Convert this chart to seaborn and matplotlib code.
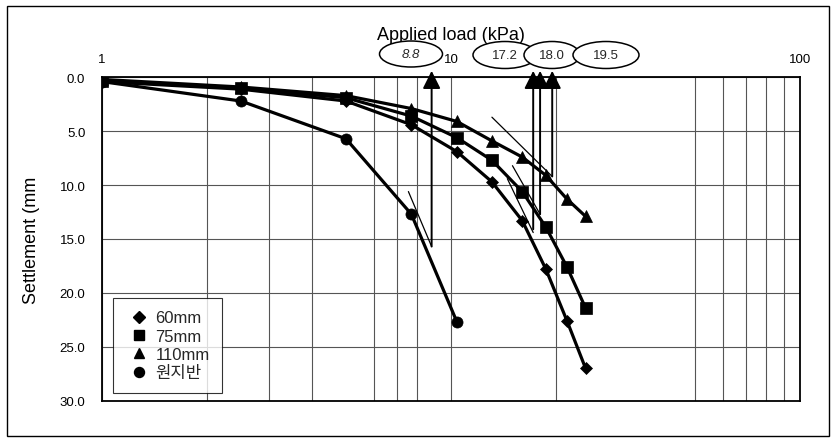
import matplotlib
matplotlib.use("Agg")
import matplotlib.pyplot as plt
import seaborn as sns
from matplotlib.patches import Ellipse, Rectangle
from matplotlib.lines import Line2D
from matplotlib.ticker import NullFormatter, FixedLocator

# Load steps (kPa) and measured settlements (mm)
loads = [1.0, 2.5, 5.0, 7.7, 10.4, 13.1, 16.0, 18.7, 21.5, 24.3]
settle_60 = [0.4, 1.1, 2.2, 4.4, 6.9, 9.7, 13.3, 17.8, 22.6, 27.0]
settle_75 = [0.3, 1.0, 1.9, 3.6, 5.6, 7.7, 10.6, 13.9, 17.6, 21.4]
settle_110 = [0.2, 0.9, 1.7, 2.9, 4.1, 5.9, 7.4, 9.1, 11.3, 12.9]
loads_ground = [1.0, 2.5, 5.0, 7.7, 10.4]
settle_ground = [0.4, 2.2, 5.7, 12.7, 22.7]

series_names = ["60mm", "75mm", "110mm", "원지반"]
series_markers = ["D", "s", "^", "o"]
series_msize = [6.5, 8, 8.5, 8]

# Yield loads picked from the tangent intersections
yield_loads = [8.8, 17.2, 18.0, 19.5]
yield_depth = [15.7, 14.1, 12.7, 9.2]
# Tangent lines: (x0, y0, x1, y1)
tangent_lines = [
    (7.55, 10.6, 8.8, 15.7),
    (14.5, 9.4, 17.2, 14.4),
    (15.0, 8.2, 18.0, 12.7),
    (13.1, 3.7, 19.5, 9.2),
]

x_ticks = [1, 10, 100]
x_grid = [2, 3, 4, 6, 7, 8, 20, 50, 60, 70, 80, 90]
y_ticks = [0, 5, 10, 15, 20, 25, 30]

sns.set_theme(style="white")
plt.rcParams["font.family"] = ["Liberation Sans", "Noto Sans CJK KR", "DejaVu Sans"]

W, H = 835, 439
fig = plt.figure(figsize=(W / 100, H / 100), dpi=100)
ax = fig.add_axes([102 / W, 1 - 401.7 / H, 698 / W, 323.4 / H])

all_x = [loads, loads, loads, loads_ground]
all_y = [settle_60, settle_75, settle_110, settle_ground]
for xs, ys, mk, ms in zip(all_x, all_y, series_markers, series_msize):
    sns.lineplot(x=xs, y=ys, ax=ax, color="black", lw=2.3, marker=mk,
                 markersize=ms, markeredgecolor="black", markeredgewidth=0.5,
                 estimator=None, sort=False, zorder=4)

for (x0, y0, x1, y1) in tangent_lines:
    ax.plot([x0, x1], [y0, y1], color="black", lw=0.9, zorder=3)

for xv, yv in zip(yield_loads, yield_depth):
    ax.annotate("", xy=(xv, -0.6), xytext=(xv, yv), annotation_clip=False,
                arrowprops=dict(arrowstyle="-|>,head_length=0.9,head_width=0.45",
                                color="black", lw=1.4, shrinkA=0, shrinkB=0),
                zorder=5)

ax.set_xscale("log")
ax.set_xlim(1, 100)
ax.set_ylim(30, 0)
ax.xaxis.tick_top()
ax.xaxis.set_label_position("top")
ax.set_xticks(x_ticks)
ax.set_xticklabels([str(v) for v in x_ticks])
ax.xaxis.set_minor_locator(FixedLocator(x_grid))
ax.xaxis.set_minor_formatter(NullFormatter())
ax.set_yticks(y_ticks)
ax.set_yticklabels([f"{v:.1f}" for v in y_ticks])
ax.tick_params(axis="x", which="both", length=0, pad=9, labelsize=9.5, colors="black")
ax.tick_params(axis="y", length=0, pad=12, labelsize=9.5, colors="black")
ax.grid(True, which="both", axis="x", color="#555555", lw=0.8)
ax.grid(True, which="major", axis="y", color="#555555", lw=0.8)
for sp in ax.spines.values():
    sp.set_color("black")
    sp.set_linewidth(1.3)

ax.set_xlabel("Applied load (kPa)", fontsize=13, labelpad=10, color="black")
ax.set_ylabel("Settlement (mm", fontsize=13, labelpad=14, color="black")

handles = [Line2D([], [], ls="none", marker=m, color="black", markersize=s * 0.9)
           for m, s in zip(series_markers, series_msize)]
leg = ax.legend(handles, series_names, loc="lower left",
                bbox_to_anchor=(11 / 698, 7.7 / 323.4), borderaxespad=0,
                fontsize=12, frameon=True, fancybox=False, handlelength=1.6,
                handletextpad=0.2, labelspacing=0.2, borderpad=0.75)
leg.get_frame().set_edgecolor("black")
leg.get_frame().set_linewidth(0.8)

# Labelled ellipses holding the yield loads
ellipse_boxes = [(411, 55, 63, 26), (505, 56, 64, 27), (552, 56, 56, 27), (606, 56, 66, 27)]
for i, (val, (cx, cy, w, h)) in enumerate(zip(yield_loads, ellipse_boxes)):
    fig.add_artist(Ellipse((cx / W, 1 - cy / H), w / W, h / H, transform=fig.transFigure,
                           facecolor="white", edgecolor="black", lw=1.1, zorder=2 + i))
    fig.text(cx / W, 1 - cy / H, f"{val:.1f}", ha="center", va="center",
             fontsize=9.5, style="italic" if i == 0 else "normal", zorder=2.5 + i)

fig.add_artist(Rectangle((7 / W, 1 - 437 / H), 822 / W, 430 / H, transform=fig.transFigure,
                         fill=False, edgecolor="black", lw=1.0))

fig.savefig("out.png", dpi=100)
